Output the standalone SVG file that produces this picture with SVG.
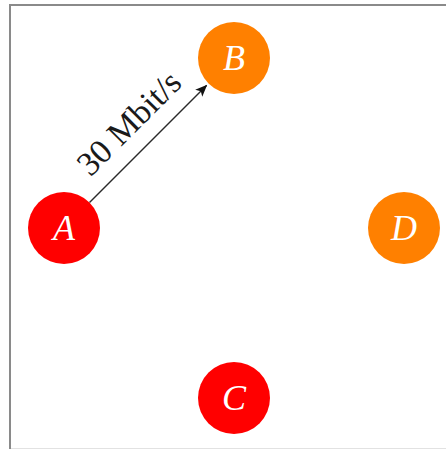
<svg xmlns="http://www.w3.org/2000/svg" width="446" height="449" viewBox="0 0 446 449">
<style>
.node-red{fill:#ff0000}
.node-orange{fill:#ff8000}
.lbl{font-family:"Liberation Serif","DejaVu Serif",serif;font-style:italic;font-size:36px;fill:#ffffff;text-anchor:middle}
.edge{stroke:#2a2a2a;stroke-width:1.4;fill:none}
.elbl{font-family:"Liberation Serif","DejaVu Serif",serif;font-size:34px;fill:#1a1a1a;text-anchor:middle}
</style>
<defs>
<marker id="arr" viewBox="0 0 12 10" refX="11" refY="5" markerWidth="12" markerHeight="10" markerUnits="userSpaceOnUse" orient="auto">
<path d="M0,0 L12,5 L0,10 L3,5 Z" fill="#111"/>
</marker>
</defs>
<rect x="0" y="0" width="446" height="449" fill="#ffffff"/>
<g id="frame">
<line x1="10" y1="5" x2="446" y2="5" stroke="#8a8a8a" stroke-width="2"/>
<line x1="10" y1="4" x2="10" y2="449" stroke="#8a8a8a" stroke-width="2"/>
<line x1="11" y1="448.5" x2="446" y2="448.5" stroke="#e2e2e2" stroke-width="1"/>
</g>
<g id="connectors">
<line class="edge" x1="89.5" y1="202.5" x2="206.5" y2="85.5" marker-end="url(#arr)"/>
<text class="elbl" transform="translate(137,131) rotate(-45)" x="0" y="0">30 Mbit/s</text>
</g>
<g id="node-A">
<circle class="node-red" cx="64" cy="228" r="36"/>
<text class="lbl" x="64" y="240">A</text>
</g>
<g id="node-B">
<circle class="node-orange" cx="234" cy="58" r="36"/>
<text class="lbl" x="234" y="70">B</text>
</g>
<g id="node-C">
<circle class="node-red" cx="234" cy="398" r="36"/>
<text class="lbl" x="234" y="410">C</text>
</g>
<g id="node-D">
<circle class="node-orange" cx="404" cy="228" r="36"/>
<text class="lbl" x="404" y="240">D</text>
</g>
</svg>
